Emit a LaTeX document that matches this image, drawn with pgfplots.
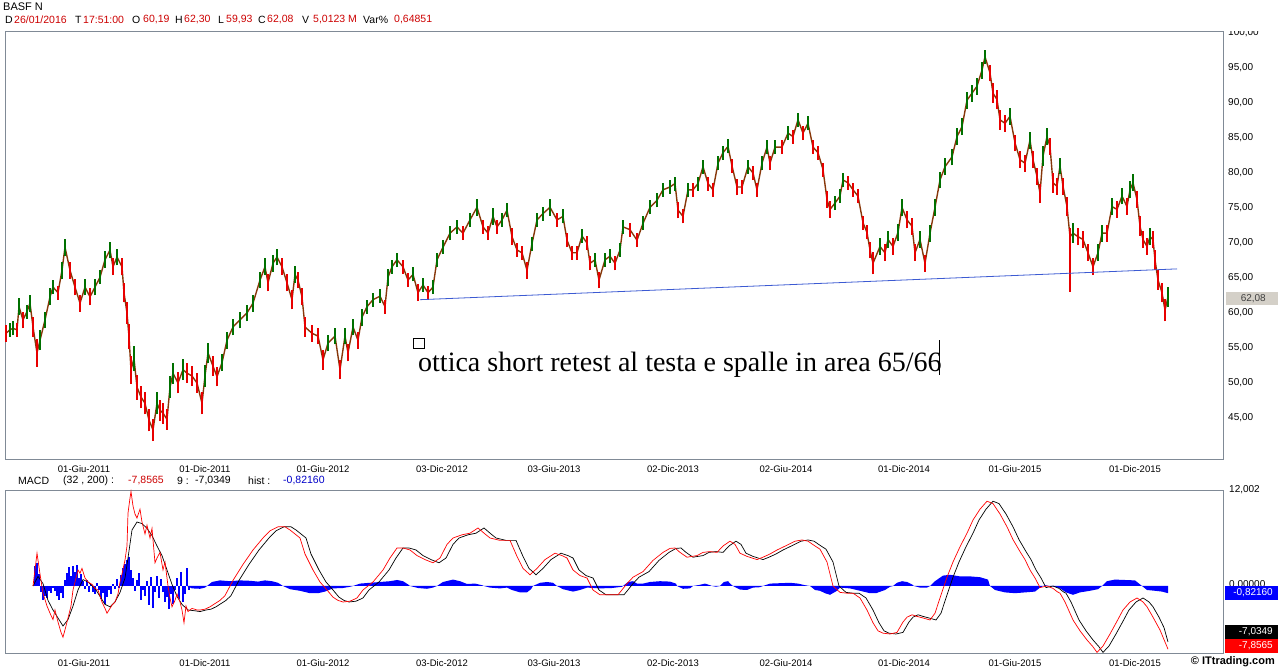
\documentclass[border=0pt]{standalone}
\usepackage{pgfplots}
\usepackage{pgfplotstable}
\pgfplotsset{compat=1.18}
\usepackage{fontspec}
\setmainfont{Liberation Sans}
\newfontfamily\seriffont{Liberation Serif}
\definecolor{frame}{RGB}{128,138,150}
\definecolor{bred}{RGB}{232,0,0}
\definecolor{bgreen}{RGB}{0,112,0}
\definecolor{bbrown}{RGB}{135,55,10}
\definecolor{tline}{RGB}{60,90,210}
\definecolor{hred}{RGB}{204,0,0}
\definecolor{hblue}{RGB}{0,0,200}
\definecolor{pbox}{RGB}{212,208,200}
% rising bars (x, mid, half range)
\pgfplotstableread{
x y e
10 57.6 1.0
13 57.8 1.0
19 60.9 1.2
27 60.2 1.0
30 61.4 1.2
40 56.1 1.4
45 59.0 1.2
50 62.3 1.2
53 63.7 1.0
62 66.1 1.2
65 69.4 1.2
85 63.7 1.2
95 63.7 1.2
100 65.1 1.0
105 67.6 1.2
110 69.0 1.2
117 68.0 1.2
134 53.5 1.8
157 47.1 1.6
170 49.4 1.6
173 51.4 1.5
183 51.9 1.5
205 51.0 1.6
208 54.3 1.4
222 52.9 1.2
227 56.1 1.2
233 58.0 1.2
240 59.0 1.2
247 60.0 1.2
253 61.4 1.2
260 64.7 1.2
265 66.6 1.2
273 67.1 1.2
277 68.0 1.2
295 65.5 1.2
328 55.7 1.2
335 56.7 1.2
345 56.7 1.2
353 58.0 1.2
362 59.4 1.2
367 60.9 1.0
373 61.9 1.0
380 62.4 1.0
388 65.1 1.2
392 66.6 1.0
397 67.6 1.0
413 65.5 1.0
423 64.0 1.0
433 63.7 1.0
437 67.6 1.0
443 69.4 1.0
450 71.4 1.0
457 72.3 1.0
470 73.3 1.0
477 75.1 1.2
493 73.8 1.2
502 73.3 1.0
507 74.7 1.0
532 69.9 1.0
537 73.3 1.0
543 74.2 1.0
550 75.1 1.2
563 73.8 1.0
582 71.0 1.0
595 67.6 1.0
605 67.6 1.0
610 68.1 1.0
620 69.0 1.0
623 72.3 1.0
643 72.8 1.0
650 75.1 1.0
657 76.1 1.0
663 77.6 1.0
670 78.0 1.0
675 78.5 1.0
688 77.6 1.0
698 78.5 1.0
703 80.9 1.0
718 81.4 1.0
723 82.9 1.0
728 83.8 1.0
748 80.9 1.0
762 81.4 1.0
767 83.7 1.0
775 83.7 1.0
788 85.7 1.0
798 87.6 1.0
808 87.1 1.0
835 75.7 1.0
840 76.7 1.0
843 79.0 1.0
880 69.5 1.2
888 70.5 1.2
898 71.5 1.2
902 75.1 1.2
920 70.5 1.2
930 71.4 1.2
935 75.1 1.2
940 79.0 1.2
945 80.9 1.2
952 82.3 1.2
957 85.2 1.2
962 86.6 1.2
967 90.4 1.2
972 91.4 1.2
977 92.4 1.2
982 94.7 1.2
985 96.6 1.0
1010 88.1 1.2
1030 84.7 1.2
1043 82.4 1.4
1047 85.2 1.2
1060 81.0 1.2
1073 71.4 1.4
1098 68.6 1.2
1102 71.4 1.2
1112 75.2 1.2
1122 76.7 1.2
1130 77.6 1.2
1133 78.6 1.2
1150 70.9 1.2
1168 62.3 1.4
}\up
% falling bars (x, mid, half range)
\pgfplotstableread{
x y e
6 57.1 1.2
17 57.6 1.0
23 59.0 1.2
33 58.0 1.4
37 54.3 2.0
58 62.9 1.0
70 66.1 1.2
75 63.7 1.2
80 61.4 1.2
90 62.3 1.2
113 66.6 1.2
122 66.6 1.2
124 62.9 1.4
127 60.0 1.6
129 56.6 1.8
131 51.9 2.0
137 49.4 1.8
141 48.0 1.6
145 47.1 1.6
149 44.7 1.6
153 43.3 1.6
160 46.1 1.5
163 45.7 1.5
167 44.8 1.5
178 50.0 1.5
187 51.4 1.4
192 51.0 1.4
197 50.0 1.4
202 47.1 1.6
213 52.4 1.4
217 50.9 1.4
268 64.3 1.2
282 66.6 1.2
287 64.3 1.2
292 61.9 1.4
298 64.7 1.2
302 62.3 1.2
305 58.0 1.4
312 57.1 1.2
318 56.7 1.2
323 53.3 1.4
340 51.9 1.4
348 54.3 1.2
358 56.1 1.2
385 60.9 1.0
403 66.6 1.0
408 64.7 1.0
418 62.9 1.2
428 62.9 1.0
463 71.4 1.0
483 72.3 1.0
488 71.4 1.0
497 72.3 1.0
512 70.9 1.2
517 69.0 1.0
522 68.6 1.0
527 66.1 1.2
557 73.3 1.0
567 70.4 1.0
572 68.6 1.0
577 68.6 1.0
587 70.0 1.0
590 67.1 1.0
599 64.7 1.2
615 67.1 1.0
630 71.9 1.0
637 70.4 1.0
678 74.7 1.2
683 73.8 1.0
693 77.6 1.0
708 78.5 1.0
713 77.6 1.0
732 81.0 1.0
737 78.0 1.2
742 78.0 1.0
753 80.0 1.0
757 77.6 1.0
770 81.4 1.0
782 83.7 1.0
793 85.2 1.0
803 85.7 1.0
813 83.7 1.0
818 82.9 1.0
823 80.5 1.0
827 76.2 1.2
830 74.8 1.2
848 78.6 1.0
853 77.6 1.0
858 76.7 1.0
863 72.9 1.0
867 71.5 1.0
870 69.0 1.2
873 67.1 1.6
885 68.6 1.2
893 69.5 1.2
907 73.3 1.2
912 72.4 1.2
915 68.6 1.2
925 67.1 1.2
990 94.3 1.2
993 91.4 1.4
997 90.5 1.4
1000 87.6 1.4
1005 87.1 1.2
1015 84.3 1.2
1020 81.9 1.2
1025 81.4 1.2
1033 81.9 1.2
1037 79.5 1.2
1040 77.1 1.4
1050 83.8 1.2
1053 78.6 1.4
1057 78.1 1.2
1063 78.1 1.2
1067 75.2 1.4
1070 67.6 4.6
1078 70.9 1.2
1083 70.5 1.2
1088 68.6 1.2
1093 66.6 1.2
1107 71.4 1.2
1117 74.8 1.2
1127 75.2 1.2
1137 76.2 1.2
1140 72.4 1.4
1143 70.5 1.2
1147 69.5 1.2
1153 70.5 1.2
1155 67.6 1.4
1158 64.7 1.4
1162 62.9 1.4
1165 60.4 1.6
}\down
% close path
\pgfplotstableread{
x y
6 57.1
10 57.6
13 57.8
17 57.6
19 60.9
23 59.0
27 60.2
30 61.4
33 58.0
37 54.3
40 56.1
45 59.0
50 62.3
53 63.7
58 62.9
62 66.1
65 69.4
70 66.1
75 63.7
80 61.4
85 63.7
90 62.3
95 63.7
100 65.1
105 67.6
110 69.0
113 66.6
117 68.0
122 66.6
124 62.9
127 60.0
129 56.6
131 51.9
134 53.5
137 49.4
141 48.0
145 47.1
149 44.7
153 43.3
157 47.1
160 46.1
163 45.7
167 44.8
170 49.4
173 51.4
178 50.0
183 51.9
187 51.4
192 51.0
197 50.0
202 47.1
205 51.0
208 54.3
213 52.4
217 50.9
222 52.9
227 56.1
233 58.0
240 59.0
247 60.0
253 61.4
260 64.7
265 66.6
268 64.3
273 67.1
277 68.0
282 66.6
287 64.3
292 61.9
295 65.5
298 64.7
302 62.3
305 58.0
312 57.1
318 56.7
323 53.3
328 55.7
335 56.7
340 51.9
345 56.7
348 54.3
353 58.0
358 56.1
362 59.4
367 60.9
373 61.9
380 62.4
385 60.9
388 65.1
392 66.6
397 67.6
403 66.6
408 64.7
413 65.5
418 62.9
423 64.0
428 62.9
433 63.7
437 67.6
443 69.4
450 71.4
457 72.3
463 71.4
470 73.3
477 75.1
483 72.3
488 71.4
493 73.8
497 72.3
502 73.3
507 74.7
512 70.9
517 69.0
522 68.6
527 66.1
532 69.9
537 73.3
543 74.2
550 75.1
557 73.3
563 73.8
567 70.4
572 68.6
577 68.6
582 71.0
587 70.0
590 67.1
595 67.6
599 64.7
605 67.6
610 68.1
615 67.1
620 69.0
623 72.3
630 71.9
637 70.4
643 72.8
650 75.1
657 76.1
663 77.6
670 78.0
675 78.5
678 74.7
683 73.8
688 77.6
693 77.6
698 78.5
703 80.9
708 78.5
713 77.6
718 81.4
723 82.9
728 83.8
732 81.0
737 78.0
742 78.0
748 80.9
753 80.0
757 77.6
762 81.4
767 83.7
770 81.4
775 83.7
782 83.7
788 85.7
793 85.2
798 87.6
803 85.7
808 87.1
813 83.7
818 82.9
823 80.5
827 76.2
830 74.8
835 75.7
840 76.7
843 79.0
848 78.6
853 77.6
858 76.7
863 72.9
867 71.5
870 69.0
873 67.1
880 69.5
885 68.6
888 70.5
893 69.5
898 71.5
902 75.1
907 73.3
912 72.4
915 68.6
920 70.5
925 67.1
930 71.4
935 75.1
940 79.0
945 80.9
952 82.3
957 85.2
962 86.6
967 90.4
972 91.4
977 92.4
982 94.7
985 96.6
990 94.3
993 91.4
997 90.5
1000 87.6
1005 87.1
1010 88.1
1015 84.3
1020 81.9
1025 81.4
1030 84.7
1033 81.9
1037 79.5
1040 77.1
1043 82.4
1047 85.2
1050 83.8
1053 78.6
1057 78.1
1060 81.0
1063 78.1
1067 75.2
1070 70.9
1073 71.4
1078 70.9
1083 70.5
1088 68.6
1093 66.6
1098 68.6
1102 71.4
1107 71.4
1112 75.2
1117 74.8
1122 76.7
1127 75.2
1130 77.6
1133 78.6
1137 76.2
1140 72.4
1143 70.5
1147 69.5
1150 70.9
1153 70.5
1155 67.6
1158 64.7
1162 62.9
1165 60.4
1168 62.3
}\price
\pgfplotsset{chartaxis/.style={scale only axis, width=1218pt, xmin=5, xmax=1223,
  axis line style={draw=frame, line width=0.8pt}, major tick length=0pt, tick style={draw=none},
  xtick={84,205,323,442,554,673,786,904,1015,1135},
  xticklabels={01-Giu-2011,01-Dic-2011,01-Giu-2012,03-Dic-2012,03-Giu-2013,02-Dic-2013,02-Giu-2014,01-Dic-2014,01-Giu-2015,01-Dic-2015},
  xticklabel style={font=\fontsize{9.5}{10}\selectfont, inner sep=0pt, yshift=-6pt}}}
\begin{document}
\begin{tikzpicture}
\useasboundingbox (0,0) rectangle (1278pt,668pt);
\begin{axis}[chartaxis, at={(5pt,209pt)}, anchor=south west, height=428pt,
  ymin=39.14, ymax=100.29, ytick={45,50,...,100}, yticklabel pos=right,
  yticklabel={\pgfmathprintnumber[fixed,fixed zerofill,precision=2,use comma,assume math mode=true]{\tick}},
  yticklabel style={font=\fontsize{10}{11}\selectfont, inner sep=0pt, xshift=5pt}]
\addplot[bbrown, line width=1.4pt, mark=none, line join=round] table[x=x,y=y] {\price};
\addplot[bgreen, line width=1.5pt, mark=none, quiver={u=0, v=2*\thisrow{e}}]
  table[x=x, y expr=\thisrow{y}-\thisrow{e}] {\up};
\addplot[bred, line width=1.5pt, mark=none, quiver={u=0, v=2*\thisrow{e}}]
  table[x=x, y expr=\thisrow{y}-\thisrow{e}] {\down};
\addplot[tline, line width=0.8pt, mark=none] coordinates {(420,61.9) (1177,66.3)};
\end{axis}
\begin{axis}[chartaxis, at={(5pt,15pt)}, anchor=south west, height=163pt,
  ymin=-8.375, ymax=12.0, ytick=\empty]
\addplot[ycomb, blue, line width=1.1pt, mark=none] coordinates {
(35,2.5) (37,2.9) (39,1.5) (41,-0.8) (43,-1.7) (45,-1.2) (47,-1.5) (49,-0.6) (51,-0.9) (53,-0.3)
(55,-0.6) (57,-1.2) (59,-1.7) (61,-0.9) (63,-1.5) (65,0.8) (67,1.6) (69,2.4) (71,1.2) (73,2.5)
(75,1.8) (77,2.6) (79,1.0) (81,1.5) (83,0.6) (85,-0.4) (87,0.8) (89,-0.7) (91,0.3) (93,-0.8)
(95,-1.0) (97,0.4) (99,-0.5) (101,-1.6) (103,-0.9) (105,-2.2) (107,-1.4) (109,-0.5) (111,-1.0) (113,0.3)
(115,-0.4) (117,0.9) (119,-0.3) (121,1.4) (123,2.2) (125,2.8) (127,3.3) (129,3.6) (131,2.0) (133,1.0)
(135,-0.6) (137,0.8) (139,1.6) (141,-1.8) (143,-0.5) (145,-1.2) (147,0.6) (149,-2.4) (151,1.1) (153,-2.8)
(155,-0.8) (157,1.2) (159,-1.5) (161,0.9) (163,-0.8) (165,-2.0) (167,-1.4) (169,-2.9) (171,-1.0) (173,-2.2)
(175,-0.5) (177,1.0) (179,-1.6) (181,1.8) (183,-2.0) (185,-1.0) (187,2.2) (189,-0.5)};
\addplot[fill=blue, draw=none, mark=none] coordinates {
(187,0) (192,-0.3) (200,-0.35) (205,-0.2) (207,0) (212,0.5) (220,0.7) (230,0.6) (240,0.7) (250,0.65)
(258,0.55) (265,0.7) (272,0.6) (278,0.4) (283,0) (290,-0.4) (300,-0.6) (310,-0.9) (318,-0.9) (325,-0.7)
(333,-0.3) (343,-0.25) (350,-0.1) (353,0) (360,0.3) (370,0.4) (380,0.5) (390,0.6) (397,0.75) (403,0.6)
(408,0.2) (410,0) (418,-0.25) (427,-0.35) (433,-0.2) (437,0) (443,0.5) (453,0.8) (460,0.6) (467,0.25)
(475,0.3) (482,0.1) (484,0) (490,-0.2) (500,-0.3) (507,-0.2) (512,-0.5) (520,-0.8) (527,-0.8) (531,-0.4)
(533,0) (540,0.4) (547,0.5) (553,0.4) (557,0) (563,-0.4) (573,-0.7) (580,-0.5) (587,-0.2) (600,-0.3)
(612,-0.25) (622,-0.1) (623,0) (628,0.5) (633,0.6) (637,0.3) (643,0.3) (650,0.5) (660,0.6) (670,0.55)
(676,0.3) (677,0) (683,-0.35) (690,-0.3) (693,0) (700,0.15) (705,0.3) (710,0.1) (712,0) (716,-0.1)
(720,0) (724,0.5) (728,0.6) (731,0.2) (733,0) (740,-0.45) (747,-0.5) (753,-0.2) (760,-0.15) (763,0)
(770,0.3) (780,0.35) (790,0.4) (798,0.3) (805,0.1) (810,0) (815,-0.5) (820,-0.6) (825,-0.9) (830,-1.1)
(837,-0.6) (840,-0.2) (850,-0.3) (860,-0.6) (870,-0.9) (876,-0.9) (885,-0.5) (890,-0.1) (893,0) (897,0.4)
(902,0.6) (907,0.5) (912,0.2) (914,0) (920,-0.2) (927,-0.2) (930,0) (935,0.6) (943,1.3) (950,1.4)
(960,1.2) (970,1.2) (980,1.1) (988,0.8) (990,0) (995,-0.5) (1005,-0.8) (1015,-0.9) (1025,-0.8) (1035,-0.7)
(1040,-0.2) (1045,0.1) (1050,0) (1055,-0.1) (1060,-0.3) (1066,-0.8) (1073,-1.1) (1080,-0.8) (1090,-0.6) (1098,-0.4)
(1102,0) (1107,0.6) (1115,0.8) (1125,0.75) (1135,0.7) (1140,0.2) (1142,0) (1147,-0.5) (1155,-0.6) (1162,-0.7)
(1168,-0.9) (1168,0)} \closedcycle;
\addplot[black, line width=0.7pt, mark=none] coordinates {
(33,0) (38,1.2) (43,0.3) (48,-1.8) (53,-3.0) (58,-4.0) (63,-5.0) (68,-4.2) (73,-2.5) (78,-0.5)
(83,0.8) (88,0.5) (95,-0.3) (100,-1.3) (105,-2.3) (110,-2.6) (115,-2.0) (120,-0.8) (125,1.0) (128,3.5)
(132,7.0) (137,8.0) (142,7.8) (147,7.2) (152,6.3) (157,5.0) (162,3.8) (167,2.0) (172,0.2) (177,-1.3)
(182,-2.3) (188,-3.0) (195,-3.1) (200,-3.2) (206,-3.0) (211,-2.9) (216,-2.6) (221,-2.2) (226,-1.8) (231,-1.2)
(239,0.7) (249,2.7) (259,4.5) (269,6.0) (276,6.9) (284,7.4) (291,7.4) (296,7.0) (301,6.5) (306,6.0)
(311,4.0) (319,2.0) (326,0.5) (333,-0.5) (339,-1.4) (344,-1.8) (349,-2.0) (356,-1.9) (363,-1.5) (369,-0.5)
(379,0.5) (389,2.0) (396,3.5) (403,4.75) (409,4.75) (416,4.5) (423,3.8) (431,3.3) (439,2.9) (446,3.5)
(453,5.2) (459,6.0) (468,6.4) (476,6.6) (484,7.25) (491,6.5) (496,6.0) (506,5.7) (516,5.7) (523,3.7)
(529,2.2) (536,1.4) (543,2.2) (551,3.3) (561,4.1) (568,3.8) (573,3.5) (579,2.0) (586,1.3) (593,1.0)
(599,-0.5) (606,-1.1) (616,-1.1) (624,-1.1) (633,0.3) (639,1.1) (649,1.8) (659,3.2) (669,4.2) (676,4.7)
(681,4.75) (686,4.2) (693,3.6) (703,3.8) (709,4.2) (716,4.3) (723,4.2) (729,5.0) (736,5.6) (741,5.2)
(746,4.1) (753,3.7) (763,3.3) (769,3.6) (776,4.0) (783,4.5) (793,5.1) (801,5.6) (808,5.75) (814,5.6)
(821,5.0) (826,4.6) (833,3.0) (839,0.0) (846,-0.8) (853,-0.9) (859,-0.9) (866,-1.5) (873,-3.0) (879,-4.6)
(884,-5.6) (889,-5.9) (896,-6.0) (903,-5.8) (909,-4.5) (913,-3.9) (918,-3.6) (923,-3.8) (929,-4.0) (936,-4.25)
(941,-3.4) (946,-1.5) (953,1.1) (959,3.0) (966,4.9) (973,6.6) (979,8.25) (986,9.6) (993,10.6) (999,10.3)
(1006,9.0) (1013,7.4) (1019,5.8) (1026,4.3) (1031,3.3) (1036,2.0) (1041,1.0) (1046,-0.2) (1053,0.0) (1059,-0.3)
(1063,-0.7) (1066,-0.9) (1071,-2.0) (1079,-4.25) (1086,-5.6) (1093,-6.75) (1099,-7.6) (1103,-8.3) (1109,-7.5) (1116,-6.0)
(1123,-4.4) (1129,-3.0) (1136,-2.0) (1143,-1.5) (1149,-2.0) (1153,-2.6) (1159,-3.9) (1164,-5.2) (1168,-7.0)};
\addplot[red, line width=0.7pt, mark=none] coordinates {
(33,0) (35,2.0) (37,4.1) (40,1.5) (43,-0.9) (47,-2.5) (50,-3.4) (53,-4.2) (55,-3.0) (58,-4.5)
(61,-5.8) (63,-6.4) (66,-5.0) (68,-4.0) (71,-2.5) (73,-0.5) (76,1.0) (78,2.0) (80,1.6) (82,2.2)
(85,1.0) (88,0.5) (92,0.2) (95,-0.3) (98,-0.5) (102,-2.0) (105,-2.8) (107,-3.4) (110,-2.8) (112,-2.4)
(115,-2.0) (118,-1.0) (120,0.5) (122,1.5) (125,3.25) (127,5.0) (128,9.1) (130,11.0) (131,11.8) (133,10.0)
(135,9.0) (137,8.5) (140,9.6) (142,8.0) (145,6.5) (147,7.6) (150,6.0) (152,7.2) (155,2.9) (157,3.5)
(160,4.2) (163,2.0) (165,3.0) (168,0.0) (170,-1.5) (172,-2.6) (175,-1.8) (177,-1.0) (180,-2.0) (182,-3.0)
(184,-4.6) (186,-2.5) (188,-3.2) (192,-2.8) (197,-3.0) (200,-3.0) (205,-2.9) (210,-2.6) (215,-2.2) (220,-1.8)
(225,-1.2) (233,0.7) (243,2.7) (253,4.5) (263,6.0) (270,6.9) (278,7.4) (285,7.4) (290,7.0) (295,6.5)
(300,6.0) (305,4.0) (313,2.0) (320,0.5) (327,-0.5) (333,-1.4) (338,-1.8) (343,-2.0) (350,-1.9) (357,-1.5)
(363,-0.5) (373,0.5) (383,2.0) (390,3.5) (397,4.75) (403,4.75) (410,4.5) (417,3.8) (425,3.3) (433,2.9)
(440,3.5) (447,5.2) (453,6.0) (462,6.4) (470,6.6) (478,7.25) (485,6.5) (490,6.0) (500,5.7) (510,5.7)
(517,3.7) (523,2.2) (530,1.4) (537,2.2) (545,3.3) (555,4.1) (562,3.8) (567,3.5) (573,2.0) (580,1.3)
(587,1.0) (593,-0.5) (600,-1.1) (610,-1.1) (618,-1.1) (627,0.3) (633,1.1) (643,1.8) (653,3.2) (663,4.2)
(670,4.7) (675,4.75) (680,4.2) (687,3.6) (697,3.8) (703,4.2) (710,4.3) (717,4.2) (723,5.0) (730,5.6)
(735,5.2) (740,4.1) (747,3.7) (757,3.3) (763,3.6) (770,4.0) (777,4.5) (787,5.1) (795,5.6) (802,5.75)
(808,5.6) (815,5.0) (820,4.6) (827,3.0) (833,0.0) (840,-0.8) (847,-0.9) (853,-0.9) (860,-1.5) (867,-3.0)
(873,-4.6) (878,-5.6) (883,-5.9) (890,-6.0) (897,-5.8) (903,-4.5) (907,-3.9) (912,-3.6) (917,-3.8) (923,-4.0)
(930,-4.25) (935,-3.4) (940,-1.5) (947,1.1) (953,3.0) (960,4.9) (967,6.6) (973,8.25) (980,9.6) (987,10.6)
(993,10.3) (1000,9.0) (1007,7.4) (1013,5.8) (1020,4.3) (1025,3.3) (1030,2.0) (1035,1.0) (1040,-0.2) (1047,0.0)
(1053,-0.3) (1057,-0.7) (1060,-0.9) (1065,-2.0) (1073,-4.25) (1080,-5.6) (1087,-6.75) (1093,-7.6) (1097,-8.3) (1103,-7.5)
(1110,-6.0) (1117,-4.4) (1123,-3.0) (1130,-2.0) (1137,-1.5) (1143,-2.0) (1147,-2.6) (1153,-3.9) (1160,-5.5) (1168,-7.9)};
\end{axis}
% cover top half of the 100,00 label
\fill[white] (1225pt,637pt) rectangle (1278pt,668pt);
% header
\begin{scope}[every node/.style={anchor=west, inner sep=0pt}]
\node[font=\fontsize{11}{12}\selectfont] at (3pt,661pt) {BASF N};
\begin{scope}[every node/.append style={font=\fontsize{10.5}{12}\selectfont}]
\node at (5pt,648pt) {D}; \node[text=hred] at (14pt,648pt) {26/01/2016};
\node at (75pt,648pt) {T}; \node[text=hred] at (83pt,648pt) {17:51:00};
\node at (132pt,648pt) {O}; \node[text=hred] at (143pt,648pt) {60,19};
\node at (175pt,648pt) {H}; \node[text=hred] at (184pt,648pt) {62,30};
\node at (218pt,648pt) {L}; \node[text=hred] at (226pt,648pt) {59,93};
\node at (258pt,648pt) {C}; \node[text=hred] at (267pt,648pt) {62,08};
\node at (302pt,648pt) {V}; \node[text=hred] at (313pt,648pt) {5,0123 M};
\node at (363pt,648pt) {Var\%}; \node[text=hred] at (394pt,648pt) {0,64851};
\node at (18pt,187pt) {MACD}; \node at (63pt,187pt) {(32 , 200) :};
\node[text=hred] at (128pt,187pt) {-7,8565}; \node at (177pt,187pt) {9 :};
\node at (195pt,187pt) {-7,0349}; \node at (248pt,187pt) {hist :};
\node[text=hblue] at (283pt,187pt) {-0,82160};
\end{scope}
\node[font=\fontsize{10}{11}\selectfont] at (1229pt,178pt) {12,002};
\node[font=\fontsize{10}{11}\selectfont] at (1229pt,83pt) {0,00000};
\end{scope}
% price box
\fill[pbox] (1226pt,363pt) rectangle (1278pt,376pt);
\node[anchor=east, inner sep=0pt, font=\fontsize{10}{11}\selectfont, text=black!75] at (1266pt,369.5pt) {62,08};
% macd boxes
\fill[blue] (1225pt,68pt) rectangle (1278pt,82pt);
\node[anchor=east, inner sep=0pt, font=\fontsize{10}{11}\selectfont, text=white] at (1273pt,75pt) {-0,82160};
\fill[black] (1225pt,29pt) rectangle (1278pt,43pt);
\node[anchor=east, inner sep=0pt, font=\fontsize{10}{11}\selectfont, text=white] at (1273pt,36pt) {-7,0349};
\fill[red] (1225pt,15pt) rectangle (1278pt,29pt);
\node[anchor=east, inner sep=0pt, font=\fontsize{10}{11}\selectfont, text=white] at (1273pt,22pt) {-7,8565};
\node[anchor=east, inner sep=0pt, font=\fontsize{11}{12}\selectfont\bfseries] at (1275pt,6pt) {\textcopyright\ ITtrading.com};
% annotation
\draw[black, line width=0.7pt] (413pt,320pt) rectangle (424pt,330pt);
\node[anchor=base west, inner sep=0pt, font=\seriffont\fontsize{28}{30}\selectfont] at (418pt,296pt) {ottica short retest al testa e spalle in area 65/66};
\draw[black, line width=0.6pt] (939pt,293pt) -- (939pt,328pt);
\end{tikzpicture}
\end{document}
